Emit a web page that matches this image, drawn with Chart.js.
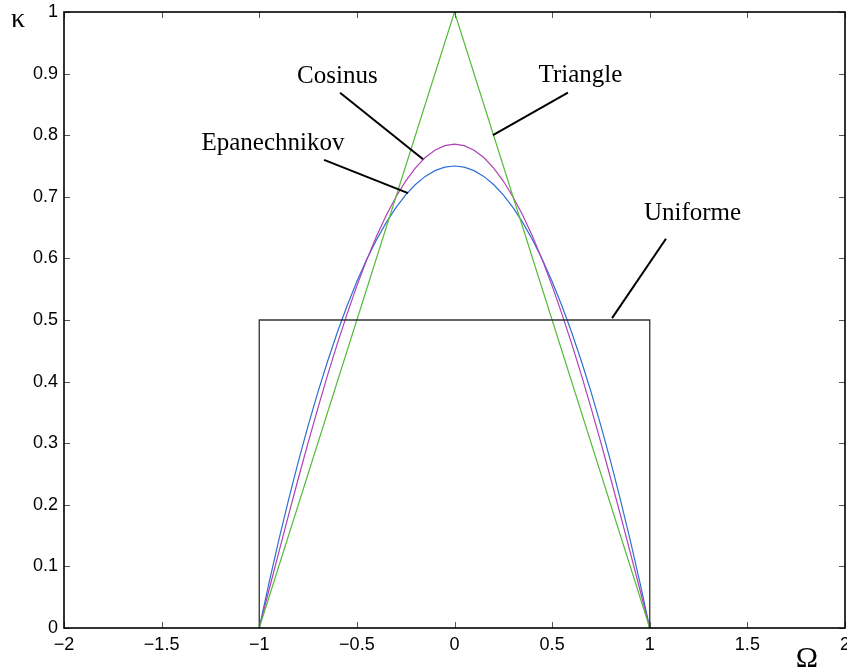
<!DOCTYPE html>
<html>
<head>
<meta charset="utf-8">
<script src="https://cdn.jsdelivr.net/npm/chart.js@4"></script>
<style>
  body { margin: 0; background: #fff; }
  canvas { display: block; }
</style>
</head>
<body>
<canvas id="kernels" width="847" height="672"></canvas>
<script>
// kernel shapes
const smoothX = [-1, -0.95, -0.9, -0.85, -0.8, -0.75, -0.7, -0.65, -0.6, -0.55, -0.5, -0.45, -0.4, -0.35, -0.3, -0.25, -0.2, -0.15, -0.1, -0.05,
                 0, 0.05, 0.1, 0.15, 0.2, 0.25, 0.3, 0.35, 0.4, 0.45, 0.5, 0.55, 0.6, 0.65, 0.7, 0.75, 0.8, 0.85, 0.9, 0.95, 1];
const epanechnikov = [0, 0.0731, 0.1425, 0.2081, 0.27, 0.3281, 0.3825, 0.4331, 0.48, 0.5231, 0.5625, 0.5981, 0.63, 0.6581, 0.6825, 0.7031, 0.72, 0.7331, 0.7425, 0.7481,
                      0.75, 0.7481, 0.7425, 0.7331, 0.72, 0.7031, 0.6825, 0.6581, 0.63, 0.5981, 0.5625, 0.5231, 0.48, 0.4331, 0.3825, 0.3281, 0.27, 0.2081, 0.1425, 0.0731, 0];
const cosinus = [0, 0.0617, 0.1229, 0.1833, 0.2427, 0.3006, 0.3566, 0.4104, 0.4616, 0.51, 0.5554, 0.5972, 0.6354, 0.6696, 0.6998, 0.7256, 0.747, 0.7637, 0.7757, 0.783,
                 0.7854, 0.783, 0.7757, 0.7637, 0.747, 0.7256, 0.6998, 0.6696, 0.6354, 0.5972, 0.5554, 0.51, 0.4616, 0.4104, 0.3566, 0.3006, 0.2427, 0.1833, 0.1229, 0.0617, 0];
const triangleX = [-1, 0, 1];
const triangle = [0, 1, 0];
const uniformX = [-1, -1, 1, 1];
const uniform = [0, 0.5, 0.5, 0];

const xTicks = [-2, -1.5, -1, -0.5, 0, 0.5, 1, 1.5, 2];
const yTicks = [0, 0.1, 0.2, 0.3, 0.4, 0.5, 0.6, 0.7, 0.8, 0.9, 1];

// labels with leader lines, in data units: [text, textX, textY, fromX, fromY, toX, toY]
const callouts = [
    ['Cosinus', -0.60, 0.885, -0.586, 0.869, -0.161, 0.761],
    ['Epanechnikov', -0.93, 0.776, -0.668, 0.760, -0.238, 0.706],
    ['Triangle', 0.645, 0.886, 0.581, 0.869, 0.197, 0.800],
    ['Uniforme', 1.219, 0.662, 1.083, 0.632, 0.807, 0.503]
];

function pts(xs, ys) {
    return xs.map(function (x, i) { return { x: x, y: ys[i] }; });
}

function fmt(v) {
    const s = String(Number(Math.abs(v).toFixed(2)));
    return v < 0 ? '\u2212' + s : s;
}

// box, inward ticks, callouts and axis symbols
const matlabLook = {
    id: 'matlabLook',
    afterDatasetsDraw(chart) {
        const ctx = chart.ctx;
        const a = chart.chartArea;
        const xs = chart.scales.x, ys = chart.scales.y;
        ctx.save();

        ctx.strokeStyle = '#555';
        ctx.lineWidth = 1;
        ctx.beginPath();
        xTicks.forEach(function (t) {
            const px = Math.round(xs.getPixelForValue(t)) + 0.5;
            ctx.moveTo(px, a.bottom); ctx.lineTo(px, a.bottom - 6);
            ctx.moveTo(px, a.top); ctx.lineTo(px, a.top + 6);
        });
        yTicks.forEach(function (t) {
            const py = Math.round(ys.getPixelForValue(t)) + 0.5;
            ctx.moveTo(a.left, py); ctx.lineTo(a.left + 6, py);
            ctx.moveTo(a.right, py); ctx.lineTo(a.right - 6, py);
        });
        ctx.stroke();

        ctx.strokeStyle = '#000';
        ctx.lineWidth = 1.6;
        ctx.strokeRect(a.left, a.top, a.right - a.left, a.bottom - a.top);

        ctx.fillStyle = '#000';
        ctx.lineWidth = 2;
        ctx.font = '25px "Liberation Serif", "Times New Roman", serif';
        ctx.textAlign = 'center';
        ctx.textBaseline = 'alphabetic';
        callouts.forEach(function (c) {
            ctx.fillText(c[0], xs.getPixelForValue(c[1]), ys.getPixelForValue(c[2]));
            ctx.beginPath();
            ctx.moveTo(xs.getPixelForValue(c[3]), ys.getPixelForValue(c[4]));
            ctx.lineTo(xs.getPixelForValue(c[5]), ys.getPixelForValue(c[6]));
            ctx.stroke();
        });

        ctx.font = '28px "Liberation Serif", "Times New Roman", serif';
        ctx.fillText('\u03ba', 18, 27);
        ctx.font = '30px "Liberation Serif", "Times New Roman", serif';
        ctx.fillText('\u03a9', 807, 667);
        ctx.restore();
    }
};

const tickFont = { family: '"Liberation Sans", Arial, sans-serif', size: 18 };

new Chart(document.getElementById('kernels'), {
    type: 'scatter',
    data: {
        datasets: [
            { label: 'Uniforme', data: pts(uniformX, uniform), borderColor: '#333', borderWidth: 1.3 },
            { label: 'Triangle', data: pts(triangleX, triangle), borderColor: '#55bb3a', borderWidth: 1.2 },
            { label: 'Cosinus', data: pts(smoothX, cosinus), borderColor: '#b040b8', borderWidth: 1.2 },
            { label: 'Epanechnikov', data: pts(smoothX, epanechnikov), borderColor: '#2f6fd0', borderWidth: 1.2 }
        ]
    },
    options: {
        responsive: false,
        animation: false,
        showLine: true,
        elements: { point: { radius: 0, hoverRadius: 0 }, line: { tension: 0, fill: false } },
        layout: { padding: { top: 12, right: 2, left: 0, bottom: 0 } },
        plugins: { legend: { display: false }, tooltip: { enabled: false } },
        scales: {
            x: {
                type: 'linear', min: -2, max: 2,
                grid: { display: false, drawTicks: false },
                border: { display: false },
                ticks: { stepSize: 0.5, color: '#000', font: tickFont, padding: 6, maxRotation: 0, callback: fmt },
                afterFit: function (s) { s.height = 44; s.paddingLeft = 0; s.paddingRight = 0; }
            },
            y: {
                type: 'linear', min: 0, max: 1,
                grid: { display: false, drawTicks: false },
                border: { display: false },
                ticks: { stepSize: 0.1, color: '#000', font: tickFont, padding: 6, callback: fmt },
                afterFit: function (s) { s.width = 64; s.paddingTop = 0; s.paddingBottom = 0; }
            }
        }
    },
    plugins: [matlabLook]
});
</script>
</body>
</html>
